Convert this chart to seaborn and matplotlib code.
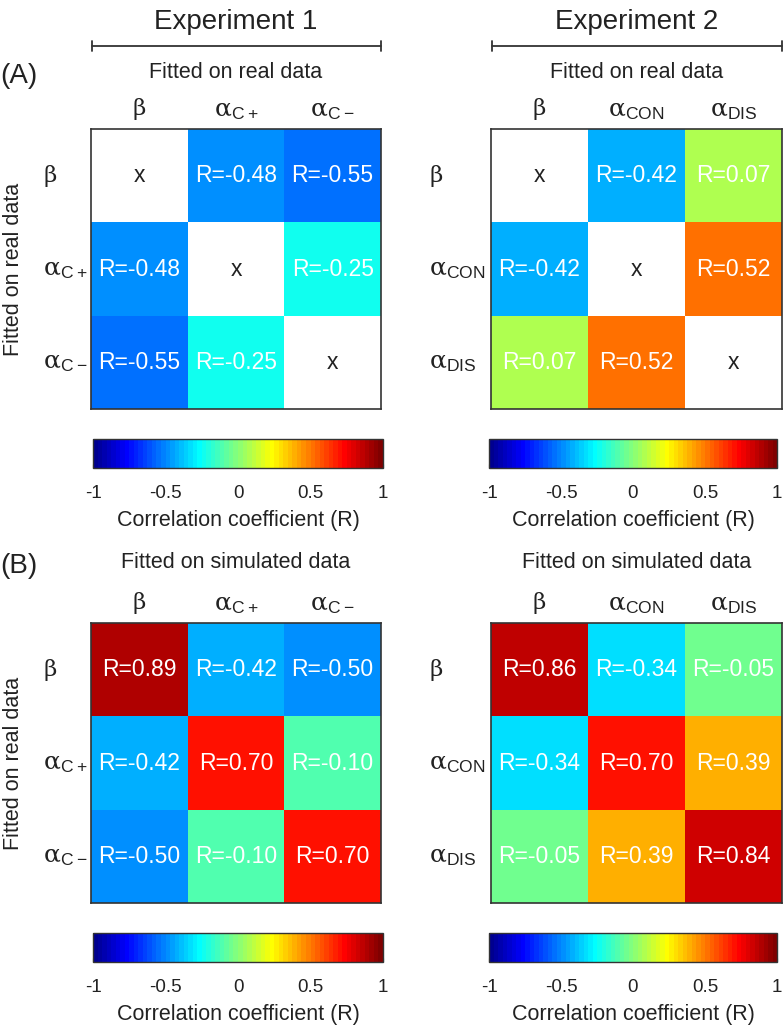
import numpy as np
import matplotlib
matplotlib.use("Agg")
import matplotlib.pyplot as plt
import matplotlib as mpl
from matplotlib.lines import Line2D
import seaborn as sns

sns.set_style("white")
plt.rcParams['font.family'] = ['Liberation Sans', 'DejaVu Sans']
plt.rcParams['mathtext.fontset'] = 'custom'
plt.rcParams['mathtext.rm'] = 'DejaVu Serif'
plt.rcParams['mathtext.sf'] = 'Liberation Sans'
plt.rcParams['mathtext.it'] = 'DejaVu Serif:italic'
plt.rcParams['axes.unicode_minus'] = False

# ---------------- data ----------------
nan = np.nan
exp1_real = [[nan, -0.48, -0.55],
             [-0.48, nan, -0.25],
             [-0.55, -0.25, nan]]
exp2_real = [[nan, -0.42, 0.07],
             [-0.42, nan, 0.52],
             [0.07, 0.52, nan]]
exp1_sim = [[0.89, -0.42, -0.50],
            [-0.42, 0.70, -0.10],
            [-0.50, -0.10, 0.70]]
exp2_sim = [[0.86, -0.34, -0.05],
            [-0.34, 0.70, 0.39],
            [-0.05, 0.39, 0.84]]

exp1_params = [r'$\mathrm{\beta}$', r'$\mathrm{\alpha}_{\mathsf{C+}}$', r'$\mathrm{\alpha}_{\mathsf{C-}}$']
exp2_params = [r'$\mathrm{\beta}$', r'$\mathrm{\alpha}_{\mathsf{CON}}$', r'$\mathrm{\alpha}_{\mathsf{DIS}}$']
cbar_ticks = [-1, -0.5, 0, 0.5, 1]
cbar_ticklabels = ['-1', '-0.5', '0', '0.5', '1']
experiment_titles = ['Experiment 1', 'Experiment 2']
panel_letters = ['(A)', '(B)']
row_titles = ['Fitted on real data', 'Fitted on simulated data']
ylabel_text = 'Fitted on real data'
cbar_label = 'Correlation coefficient (R)'


# MATLAB-style jet(64) colormap
def matlab_jet(m=64):
    n = int(np.ceil(m / 4))
    u = np.concatenate([np.arange(1, n + 1) / n, np.ones(n - 1), np.arange(n, 0, -1) / n])
    g0 = int(np.ceil(n / 2)) - (1 if m % 4 == 1 else 0)
    g = g0 + np.arange(1, len(u) + 1)
    r = g + n
    b = g - n
    J = np.zeros((m, 3))
    for idx, ch in ((r, 0), (g, 1), (b, 2)):
        keep = (idx >= 1) & (idx <= m)
        J[idx[keep] - 1, ch] = u[keep]
    return mpl.colors.ListedColormap(J, name='matlab_jet')


# ---------------- layout ----------------
W, H = 784, 1025
fig = plt.figure(figsize=(W / 100, H / 100), dpi=100)
TXT = '#222222'


def rect(x0, y0, x1, y1):
    return [x0 / W, 1 - y1 / H, (x1 - x0) / W, (y1 - y0) / H]


def fx(x):
    return x / W


def fy(y):
    return 1 - y / H


cmap = matlab_jet(64)
norm = mpl.colors.Normalize(vmin=-1, vmax=1)

col_x = [(91, 381), (491, 782)]
cbar_x = [(93, 383), (489, 777)]
row_y = [(129, 409), (623, 903)]
cbar_y = [(439, 468), (933, 962)]
ylab_pad = [34.5, 45]

datasets = [[exp1_real, exp2_real], [exp1_sim, exp2_sim]]
params = [exp1_params, exp2_params]

for r in range(2):
    for c in range(2):
        data = np.array(datasets[r][c], dtype=float)
        mask = np.isnan(data)
        ann = np.array([["" if np.isnan(v) else f"R={v:.2f}" for v in row] for row in data])
        x0, x1 = col_x[c]
        y0, y1 = row_y[r]
        ax = fig.add_axes(rect(x0, y0, x1, y1))
        sns.heatmap(data, mask=mask, cmap=cmap, vmin=-1, vmax=1, cbar=False,
                    annot=ann, fmt='', annot_kws={'color': 'white', 'fontsize': 16.5},
                    linewidths=0, ax=ax)
        n = data.shape[0]
        for i in range(n):
            for j in range(n):
                if mask[i, j]:
                    ax.text(j + 0.5, i + 0.5, 'x', ha='center', va='center',
                            color=TXT, fontsize=16.5)
        ax.xaxis.tick_top()
        ax.set_xticklabels(params[c], fontsize=18, color=TXT)
        ax.set_yticklabels(params[c], fontsize=18, color=TXT, rotation=0, ha='left')
        ax.get_xticklabels()[0].set_fontsize(16.5)
        ax.get_yticklabels()[0].set_fontsize(16.5)
        ax.tick_params(axis='x', length=0, pad=5)
        ax.tick_params(axis='y', length=0, pad=ylab_pad[c])
        for sp in ax.spines.values():
            sp.set_visible(True)
            sp.set_color('#333333')
            sp.set_linewidth(1.2)

        # colorbar
        cx0, cx1 = cbar_x[c]
        cy0, cy1 = cbar_y[r]
        cax = fig.add_axes(rect(cx0, cy0, cx1, cy1))
        sm = mpl.cm.ScalarMappable(norm=norm, cmap=cmap)
        cb = fig.colorbar(sm, cax=cax, orientation='horizontal', ticks=cbar_ticks)
        cb.ax.set_xticklabels(cbar_ticklabels)
        cb.ax.tick_params(direction='in', length=3, labelsize=13.5, pad=12,
                          labelcolor=TXT, color='#333333')
        cb.outline.set_edgecolor('#333333')
        cb.outline.set_linewidth(1.0)
        cb.set_label(cbar_label, fontsize=15.5, color=TXT, labelpad=6)

        # panel title
        fig.text(fx((x0 + x1) / 2), fy(y0 - 57 if r == 0 else y0 - 61), row_titles[r],
                 ha='center', va='center', fontsize=15.5, color=TXT)

    # y label and panel letter
    y0, y1 = row_y[r]
    fig.text(fx(3), fy((y0 + y1) / 2), ylabel_text, rotation=90, ha='left',
             va='center', fontsize=15.5, color=TXT)
    fig.text(fx(19), fy(76 if r == 0 else 566), panel_letters[r], ha='center',
             va='center', fontsize=20, color=TXT)

# experiment titles with brackets
for c in range(2):
    x0, x1 = col_x[c]
    fig.text(fx((x0 + x1) / 2), fy(22), experiment_titles[c], ha='center',
             va='center', fontsize=20, color=TXT)
    fig.add_artist(Line2D([fx(x0 + 1), fx(x1)], [fy(46), fy(46)], color='#333333', lw=1.3))
    for xx in (x0 + 1, x1):
        fig.add_artist(Line2D([fx(xx), fx(xx)], [fy(41), fy(51)], color='#333333', lw=1.3))

fig.savefig('out.png', dpi=100)
